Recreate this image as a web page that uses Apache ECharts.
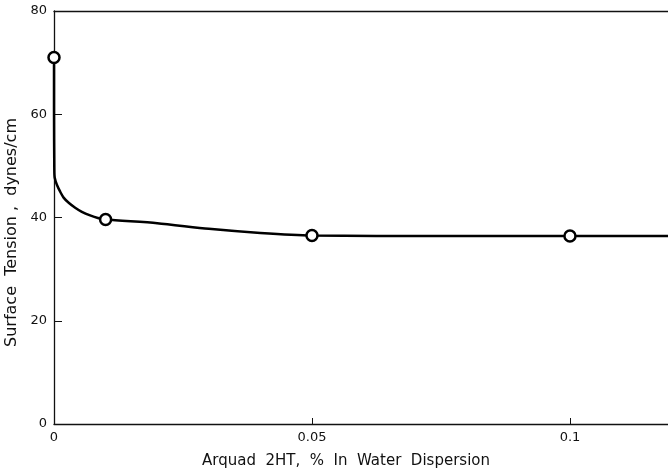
<!DOCTYPE html>
<html>
<head>
<meta charset="utf-8">
<script src="https://cdn.jsdelivr.net/npm/echarts@6/dist/echarts.min.js"></script>
<style>
	html, body { margin: 0; padding: 0; background: #fff; }
	#chart { width: 668px; height: 470px; }
</style>
</head>
<body>
<div id="chart"></div>
<script>
// measured points (circles)
var pointX = [0, 0.01, 0.05, 0.1];
var pointY = [71, 39.6, 36.5, 36.4];

// hand-drawn curve through the points
var curveX = [0, 0, 0.00006, 0.00014, 0.00058, 0.0012, 0.0019, 0.0029, 0.0041, 0.0054, 0.007, 0.0085, 0.0101,
	0.02, 0.03, 0.04, 0.05, 0.075, 0.1, 0.119];
var curveY = [71, 60.9, 49.2, 47.7, 46.3, 45.0, 43.8, 42.8, 41.9, 41.1, 40.4, 39.9, 39.6,
	38.9, 37.8, 37.0, 36.5, 36.4, 36.4, 36.4];

var yTicks = [0, 20, 40, 60, 80];
var xTicks = [0, 0.05, 0.1];

var fontFam = 'DejaVu Sans';

function pairs(xs, ys) {
	var out = [];
	for (var i = 0; i < xs.length; i++) {
		out.push([xs[i], ys[i]]);
	}
	return out;
}

var chart = echarts.init(document.getElementById('chart'));

var option = {
	backgroundColor: '#fff',
	animation: false,
	grid: {
		left: 54,
		right: 0,
		top: 11,
		bottom: 46,
		containLabel: false,
		outerBoundsMode: 'none'
	},
	xAxis: [{
		type: 'value',
		min: 0,
		max: 0.119,
		interval: 0.05,
		name: 'Arquad  2HT,  %  In  Water  Dispersion',
		nameLocation: 'middle',
		nameGap: 30,
		nameTextStyle: { color: '#111', fontSize: 15, fontFamily: fontFam, padding: [0, 30, 0, 0] },
		splitLine: { show: false },
		axisLine: { lineStyle: { color: '#111', width: 1.3 } },
		axisTick: { inside: true, length: 6, lineStyle: { color: '#111' } },
		axisLabel: {
			color: '#111', fontSize: 13, fontFamily: fontFam, margin: 7,
			showMaxLabel: false,
			formatter: function(v) {
				return xTicks.indexOf(v) >= 0 ? String(v) : '';
			}
		}
	}, {
		type: 'value',
		position: 'top',
		min: 0,
		max: 0.119,
		axisLine: { show: true, onZero: false, lineStyle: { color: '#111', width: 1.3 } },
		axisTick: { show: false },
		axisLabel: { show: false },
		splitLine: { show: false }
	}],
	yAxis: {
		type: 'value',
		min: 0,
		max: 80,
		interval: 20,
		name: 'Surface  Tension ,  dynes/cm',
		nameLocation: 'middle',
		nameGap: 32,
		nameTextStyle: { color: '#111', fontSize: 16, fontFamily: fontFam, padding: [0, 30, 0, 0] },
		splitLine: { show: false },
		axisLine: { show: true, lineStyle: { color: '#111', width: 1.3 } },
		axisTick: { show: true, inside: true, length: 8, lineStyle: { color: '#111' } },
		axisLabel: {
			color: '#111', fontSize: 13, fontFamily: fontFam, margin: 7,
			formatter: function(v) {
				return yTicks.indexOf(v) >= 0 ? String(v) : '';
			}
		}
	},
	series: [{
		type: 'line',
		data: pairs(curveX, curveY),
		smooth: 0.25,
		showSymbol: false,
		lineStyle: { color: '#000', width: 2.5 },
		z: 2
	}, {
		type: 'scatter',
		data: pairs(pointX, pointY),
		symbol: 'circle',
		symbolSize: 11,
		itemStyle: { color: '#fff', borderColor: '#000', borderWidth: 2.5, opacity: 1 },
		z: 3
	}]
};

chart.setOption(option);
</script>
</body>
</html>
